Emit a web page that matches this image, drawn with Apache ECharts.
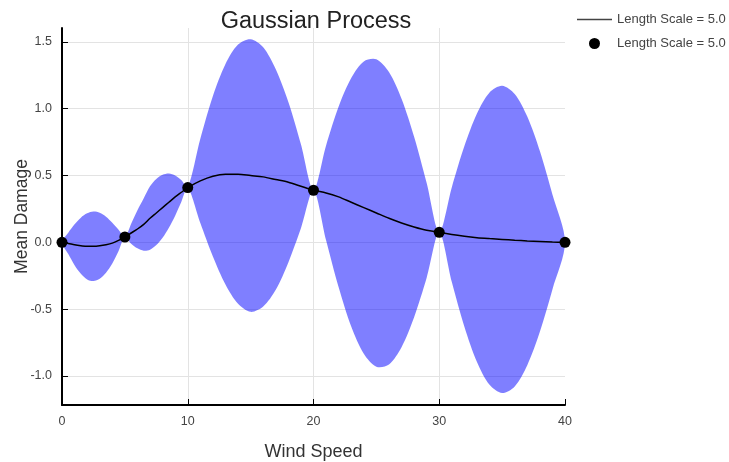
<!DOCTYPE html>
<html>
<head>
<meta charset="utf-8">
<script src="https://cdn.jsdelivr.net/npm/echarts@6/dist/echarts.min.js"></script>
<style>
  html, body { margin: 0; padding: 0; background: #fff; }
  #chart { width: 729px; height: 462px; }
</style>
</head>
<body>
<div id="chart"></div>
<script>
// Sample positions along the wind-speed axis
const windSpeed = [
  0, 0.5, 1, 1.5, 2, 2.5, 3, 3.5, 4, 4.5,
  5, 5.5, 6, 6.5, 7, 7.5, 8, 8.5, 9, 9.5,
  10, 11, 12, 13, 14, 15, 16, 17, 18, 19,
  20, 21, 22, 23, 24, 25, 26, 27, 28, 29,
  30, 31, 32, 33, 34, 35, 36, 37, 38, 39, 40
];

// Posterior mean of the process
const meanDamage = [
  0, -0.008, -0.018, -0.025, -0.03, -0.03, -0.026, -0.018, -0.006, 0.015,
  0.04, 0.07, 0.10, 0.135, 0.18, 0.22, 0.26, 0.30, 0.34, 0.375,
  0.41, 0.46, 0.495, 0.51, 0.51, 0.50, 0.49, 0.47, 0.45, 0.42,
  0.39, 0.37, 0.34, 0.30, 0.26, 0.22, 0.18, 0.145, 0.115, 0.09,
  0.075, 0.058, 0.045, 0.035, 0.028, 0.022, 0.016, 0.011, 0.007, 0.003, 0
];

// Confidence band: upper and lower edges
const upperBand = [
  0, 0.072, 0.135, 0.185, 0.217, 0.230, 0.221, 0.192, 0.147, 0.095,
  0.04, 0.14, 0.24, 0.33, 0.42, 0.475, 0.505, 0.515, 0.50, 0.465,
  0.41, 0.775, 1.095, 1.335, 1.480, 1.520, 1.460, 1.295, 1.050, 0.735,
  0.39, 0.725, 1.016, 1.230, 1.354, 1.370, 1.274, 1.075, 0.791, 0.445,
  0.075, 0.413, 0.721, 0.965, 1.122, 1.172, 1.110, 0.941, 0.683, 0.358, 0
];
const lowerBand = [
  0, -0.088, -0.171, -0.235, -0.277, -0.290, -0.273, -0.228, -0.159, -0.065,
  0.04, -0.01, -0.045, -0.062, -0.055, -0.02, 0.035, 0.11, 0.20, 0.305,
  0.41, 0.145, -0.105, -0.315, -0.460, -0.520, -0.480, -0.355, -0.150, 0.105,
  0.39, 0.015, -0.336, -0.630, -0.834, -0.930, -0.914, -0.785, -0.561, -0.265,
  0.075, -0.297, -0.631, -0.895, -1.066, -1.128, -1.078, -0.919, -0.669, -0.352, 0
];

// Observed points
const obsSpeed = [0, 5, 10, 20, 30, 40];
const obsDamage = [0, 0.04, 0.41, 0.39, 0.075, 0];

const legendText = 'Length Scale = 5.0';
const fontFamily = '"Liberation Sans", Arial, sans-serif';

const bandData = windSpeed.map((x, i) => [x, upperBand[i], lowerBand[i]]);
const meanSeries = windSpeed.map((x, i) => [x, meanDamage[i]]);
const obsSeries = obsSpeed.map((x, i) => [x, obsDamage[i]]);

// Draws the whole band as one closed shape: along the upper edge,
// then back along the lower edge.
function renderBand(params, api) {
  if (params.dataIndex !== 0) return null;
  const n = bandData.length;
  const pts = [];
  for (let i = 0; i < n; i++) {
    pts.push(api.coord([bandData[i][0], bandData[i][1]]));
  }
  for (let i = n - 2; i >= 1; i--) {
    pts.push(api.coord([bandData[i][0], bandData[i][2]]));
  }
  return {
    type: 'polygon',
    shape: { points: pts, smooth: 0.3 },
    style: { fill: 'rgba(0, 0, 255, 0.5)', stroke: null }
  };
}

const chart = echarts.init(document.getElementById('chart'), null, { renderer: 'canvas' });

chart.setOption({
  animation: false,
  backgroundColor: '#ffffff',
  textStyle: { fontFamily: fontFamily },
  title: {
    text: 'Gaussian Process',
    left: 311,
    top: 5,
    textAlign: 'center',
    textStyle: { fontSize: 23.5, fontWeight: 'normal', color: '#222', fontFamily: fontFamily }
  },
  legend: {
    orient: 'vertical',
    left: 572,
    top: 8,
    itemWidth: 35,
    itemHeight: 11,
    itemGap: 11,
    data: [
      { name: 'mean', icon: 'path://M0,0L35,0L35,1.6L0,1.6Z', itemStyle: { color: '#444' } },
      { name: 'observed', icon: 'circle', itemStyle: { color: '#000' } }
    ],
    formatter: () => legendText,
    textStyle: { fontSize: 13, color: '#444', fontFamily: fontFamily }
  },
  grid: { left: 62, right: 164, top: 28, bottom: 57, containLabel: false, outerBoundsMode: 'none' },
  xAxis: {
    type: 'value',
    min: 0,
    max: 40,
    interval: 10,
    name: 'Wind Speed',
    nameLocation: 'middle',
    nameGap: 38,
    nameMoveOverlap: false,
    nameTextStyle: { fontSize: 18, color: '#333', fontFamily: fontFamily },
    axisLine: { show: true, onZero: false, lineStyle: { color: '#000', width: 2 } },
    axisTick: { show: true, inside: true, length: 6, lineStyle: { color: '#000', width: 1 } },
    axisLabel: { fontSize: 12.5, color: '#444', margin: 10, fontFamily: fontFamily },
    splitLine: { show: true, showMinLine: false, showMaxLine: false, lineStyle: { color: '#e3e3e3', width: 1 } }
  },
  yAxis: {
    type: 'value',
    min: -1.217,
    max: 1.604,
    splitNumber: 6,
    name: 'Mean Damage',
    nameLocation: 'middle',
    nameGap: 31,
    nameMoveOverlap: false,
    nameRotate: 90,
    nameTextStyle: { fontSize: 17.5, color: '#333', fontFamily: fontFamily },
    axisLine: { show: true, onZero: false, lineStyle: { color: '#000', width: 2 } },
    axisTick: { show: true, inside: true, length: 6, lineStyle: { color: '#000', width: 1 } },
    axisLabel: {
      fontSize: 12.5, color: '#444', margin: 10, fontFamily: fontFamily,
      showMinLabel: false, showMaxLabel: false,
      formatter: v => v.toFixed(1)
    },
    splitLine: { show: true, showMinLine: false, showMaxLine: false, lineStyle: { color: '#e3e3e3', width: 1 } }
  },
  series: [
    {
      name: 'band',
      type: 'custom',
      renderItem: renderBand,
      data: bandData,
      encode: { x: 0, y: [1, 2] },
      silent: true,
      z: 1
    },
    {
      name: 'mean',
      type: 'line',
      data: meanSeries,
      smooth: 0.3,
      symbol: 'none',
      color: '#000',
      lineStyle: { color: '#000', width: 1.5 },
      z: 3
    },
    {
      name: 'observed',
      type: 'scatter',
      data: obsSeries,
      symbol: 'circle',
      symbolSize: 11,
      color: '#000',
      itemStyle: { color: '#000', opacity: 1 },
      clip: false,
      z: 4
    }
  ]
});
</script>
</body>
</html>
